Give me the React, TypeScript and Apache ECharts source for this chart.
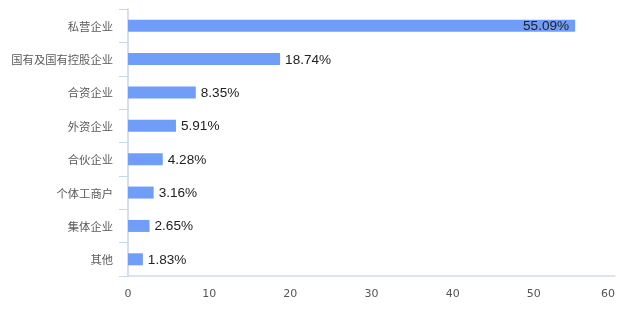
import React, { useEffect, useRef } from "react";
import * as echarts from "echarts";

const categories = ["私营企业", "国有及国有控股企业", "合资企业", "外资企业", "合伙企业", "个体工商户", "集体企业", "其他"];
const values = [55.09, 18.74, 8.35, 5.91, 4.28, 3.16, 2.65, 1.83];
const xTicks = [0, 10, 20, 30, 40, 50, 60];

export default function App() {
  const ref = useRef<HTMLDivElement>(null);
  useEffect(() => {
    if (!ref.current) return;
    const chart = echarts.init(ref.current, undefined, { renderer: "svg" });
    const cats = [...categories].reverse();
    const vals = [...values].reverse();
    chart.setOption({
      animation: false,
      grid: { left: 128, right: 10, top: 9, bottom: 37, containLabel: false },
      xAxis: {
        type: "value",
        min: xTicks[0],
        max: xTicks[xTicks.length - 1],
        interval: 10,
        axisLine: { show: true, lineStyle: { color: "#cfdbea", width: 1.5 } },
        axisTick: { show: false },
        splitLine: { show: false },
        axisLabel: { color: "#555", fontSize: 11, margin: 12, fontFamily: "DejaVu Sans", alignMaxLabel: "right" },
      },
      yAxis: {
        type: "category",
        data: cats,
        axisLine: { show: true, lineStyle: { color: "#c6d6ec", width: 1.5 } },
        axisTick: { show: true, length: 9, lineStyle: { color: "#c6d6ec" } },
        axisLabel: { color: "#5a5a5a", fontSize: 11.3, margin: 15, fontFamily: "Noto Sans CJK SC" },
      },
      series: [
        {
          type: "bar",
          data: vals.map((v, i) => ({
            value: v,
            label: i === vals.length - 1
              ? { position: "insideRight", distance: 6 }
              : undefined,
          })),
          barWidth: 12,
          itemStyle: { color: "#6f9df8" },
          label: {
            show: true,
            position: "right",
            distance: 5,
            formatter: (p: any) => p.value.toFixed(2) + "%",
            color: "#222",
            fontSize: 13.6,
            fontFamily: "Liberation Sans",
          },
        },
      ],
    });
    return () => chart.dispose();
  }, []);
  return <div ref={ref} style={{ position: "fixed", left: 0, top: 0, width: 625, height: 313 }} />;
}
